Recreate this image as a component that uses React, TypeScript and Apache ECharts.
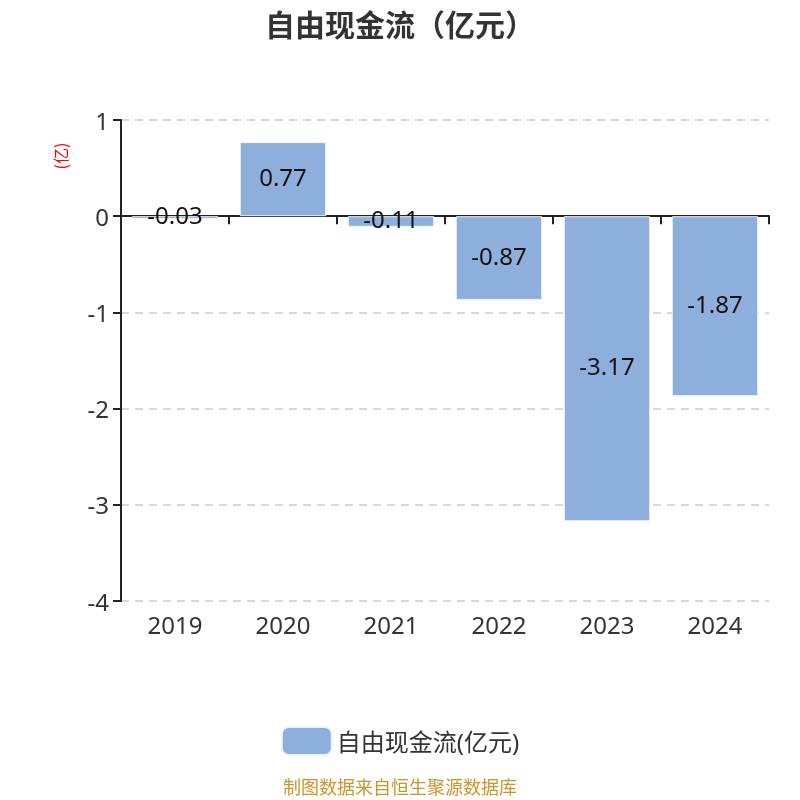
import React, { useRef, useEffect } from "react";
import * as echarts from "echarts";

const years = ["2019", "2020", "2021", "2022", "2023", "2024"];
const cashFlow = [-0.03, 0.77, -0.11, -0.87, -3.17, -1.87];
const seriesName = "自由现金流(亿元)";

const App = function () {
  const chart = useRef<HTMLDivElement>(null);
  useEffect(() => {
    if (!chart.current) return;
    const myChart = echarts.init(chart.current, null, { renderer: "svg" });
    const font = "'Noto Sans', 'Noto Sans CJK SC', sans-serif";
    const option = {
      animation: false,
      textStyle: { fontFamily: font },
      title: {
        text: "自由现金流（亿元）",
        left: "center",
        top: 3,
        textStyle: {
          fontSize: 30,
          fontWeight: "bold",
          color: "#333",
          fontFamily: "'Noto Sans CJK SC', sans-serif",
        },
      },
      grid: { left: 121, right: 31, top: 120, bottom: 199 },
      legend: {
        top: 721,
        left: "center",
        itemWidth: 50,
        itemHeight: 28,
        itemGap: 10,
        textStyle: { fontSize: 24, color: "#333", fontFamily: font },
        data: [seriesName],
      },
      graphic: [
        {
          type: "text",
          x: 60,
          y: 156,
          rotation: Math.PI / 2,
          style: {
            text: "(亿)",
            fill: "red",
            font: "16px 'Noto Sans CJK SC', sans-serif",
            textAlign: "center",
            textVerticalAlign: "middle",
          },
        },
        {
          type: "text",
          left: "center",
          top: 777,
          style: {
            text: "制图数据来自恒生聚源数据库",
            fill: "#c9952c",
            font: "18px 'Noto Sans CJK SC', sans-serif",
          },
        },
      ],
      xAxis: [
        {
          type: "category",
          data: years,
          axisLine: { onZero: true, lineStyle: { color: "#222", width: 2 } },
          axisTick: { show: true, length: 8, lineStyle: { color: "#222", width: 2 } },
          axisLabel: { show: false },
        },
        {
          type: "category",
          data: years,
          position: "bottom",
          axisLine: { show: false, onZero: false },
          axisTick: { show: false },
          axisLabel: { fontSize: 24, color: "#333", margin: 11, fontFamily: font },
        },
      ],
      yAxis: {
        type: "value",
        min: -4,
        max: 1,
        interval: 1,
        axisLine: { show: true, lineStyle: { color: "#222", width: 2 } },
        axisTick: { show: true, length: 8, lineStyle: { color: "#222", width: 2 } },
        axisLabel: { fontSize: 24, color: "#333", margin: 12, fontFamily: font },
        splitLine: { lineStyle: { type: [8, 6], color: "#ccc", width: 1.5 } },
      },
      series: [
        {
          name: seriesName,
          type: "bar",
          data: cashFlow,
          barWidth: "80%",
          itemStyle: { color: "#8eaedb", borderColor: "#f0f4fb", borderWidth: 1 },
          label: {
            show: true,
            position: "inside",
            offset: [0, -3],
            fontSize: 24,
            color: "#111",
            fontFamily: font,
          },
        },
      ],
    };
    myChart.setOption(option as any);
    return () => {
      myChart.dispose();
    };
  }, []);
  return (
    <div
      ref={chart}
      style={{ position: "fixed", left: 0, top: 0, height: "800px", width: "800px" }}
    ></div>
  );
};

export default App;
